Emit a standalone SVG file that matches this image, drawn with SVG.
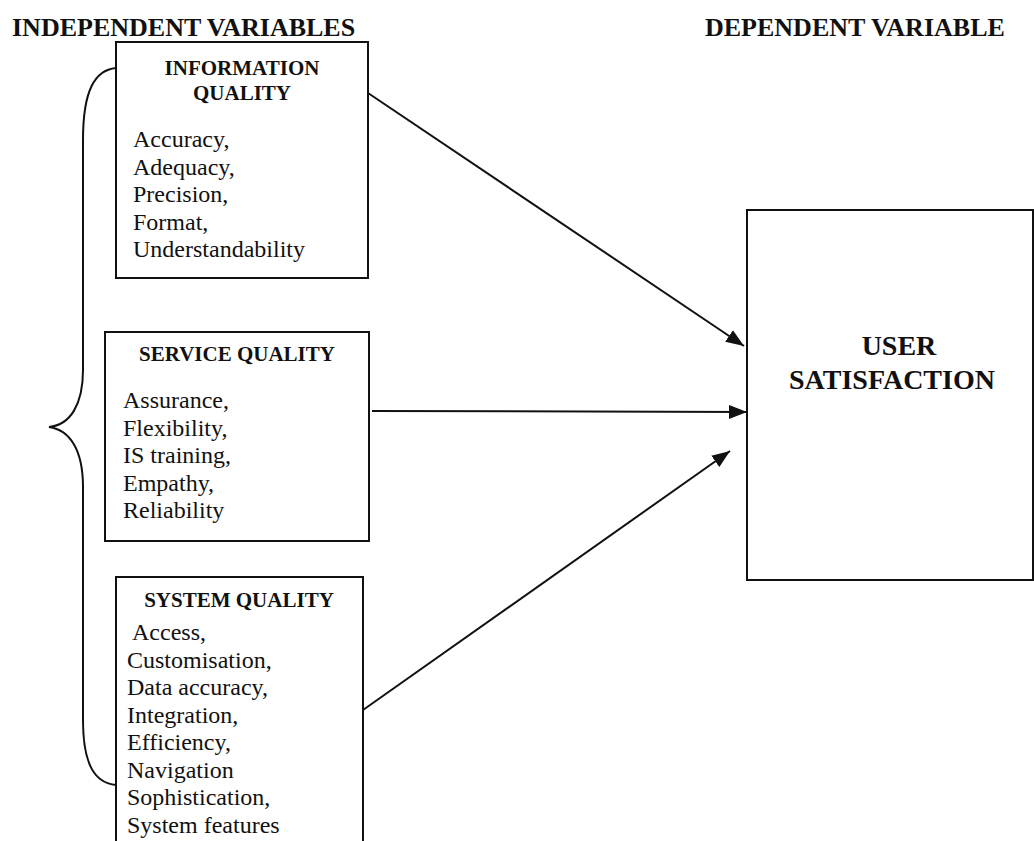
<svg xmlns="http://www.w3.org/2000/svg" width="1034" height="841" viewBox="0 0 1034 841">
<style>
text{font-family:"Liberation Serif","Times New Roman",serif;fill:#111}
.hd{font-size:26px;font-weight:bold}
.tt{font-size:21px;font-weight:bold;text-anchor:middle}
.bd{font-size:24px}
.big{font-size:28px;font-weight:bold;text-anchor:middle}
.box{fill:#fff;stroke:#111;stroke-width:2}
.con{stroke:#111;stroke-width:2;fill:none}
</style>
<defs>
<marker id="ah2" viewBox="0 0 18 14" refX="18" refY="7" markerWidth="18" markerHeight="14" markerUnits="userSpaceOnUse" orient="auto">
<path d="M0,0 L18,7 L0,14 z" fill="#111"/>
</marker>
</defs>
<rect width="1034" height="841" fill="#fff"/>
<text class="hd" x="12" y="36">INDEPENDENT VARIABLES</text>
<text class="hd" x="705" y="36">DEPENDENT VARIABLE</text>
<g id="connectors">
<path class="con" d="M116,68 C95,70 83,90 83,140 L83,370 C83,405 70,425 49,427 C70,430 83,450 83,487 L83,720 C83,765 95,783 116,785"/>
<line class="con" x1="368" y1="93" x2="744" y2="346" marker-end="url(#ah2)"/>
<line class="con" x1="372" y1="411" x2="747" y2="412" marker-end="url(#ah2)"/>
<line class="con" x1="363" y1="710" x2="730" y2="451" marker-end="url(#ah2)"/>
</g>
<g id="information-quality">
<rect class="box" x="116" y="42" width="252" height="236"/>
<text class="tt" x="242" y="75">INFORMATION</text>
<text class="tt" x="242" y="100">QUALITY</text>
<text class="bd" x="133" y="147">Accuracy,</text>
<text class="bd" x="133" y="174.5">Adequacy,</text>
<text class="bd" x="133" y="202">Precision,</text>
<text class="bd" x="133" y="229.5">Format,</text>
<text class="bd" x="133" y="257">Understandability</text>
</g>
<g id="service-quality">
<rect class="box" x="105" y="332" width="264" height="209"/>
<text class="tt" x="237" y="361">SERVICE QUALITY</text>
<text class="bd" x="123" y="408">Assurance,</text>
<text class="bd" x="123" y="435.5">Flexibility,</text>
<text class="bd" x="123" y="463">IS training,</text>
<text class="bd" x="123" y="490.5">Empathy,</text>
<text class="bd" x="123" y="518">Reliability</text>
</g>
<g id="system-quality">
<rect class="box" x="116" y="577" width="247" height="290"/>
<text class="tt" x="239" y="607">SYSTEM QUALITY</text>
<text class="bd" x="132" y="640">Access,</text>
<text class="bd" x="127" y="668">Customisation,</text>
<text class="bd" x="127" y="695">Data accuracy,</text>
<text class="bd" x="127" y="722.5">Integration,</text>
<text class="bd" x="127" y="750">Efficiency,</text>
<text class="bd" x="127" y="777.5">Navigation</text>
<text class="bd" x="127" y="805">Sophistication,</text>
<text class="bd" x="127" y="832.5">System features</text>
</g>
<g id="user-satisfaction">
<rect class="box" x="747" y="210" width="286" height="370"/>
<text class="big" x="899" y="355">USER</text>
<text class="big" x="892" y="389">SATISFACTION</text>
</g>
</svg>
